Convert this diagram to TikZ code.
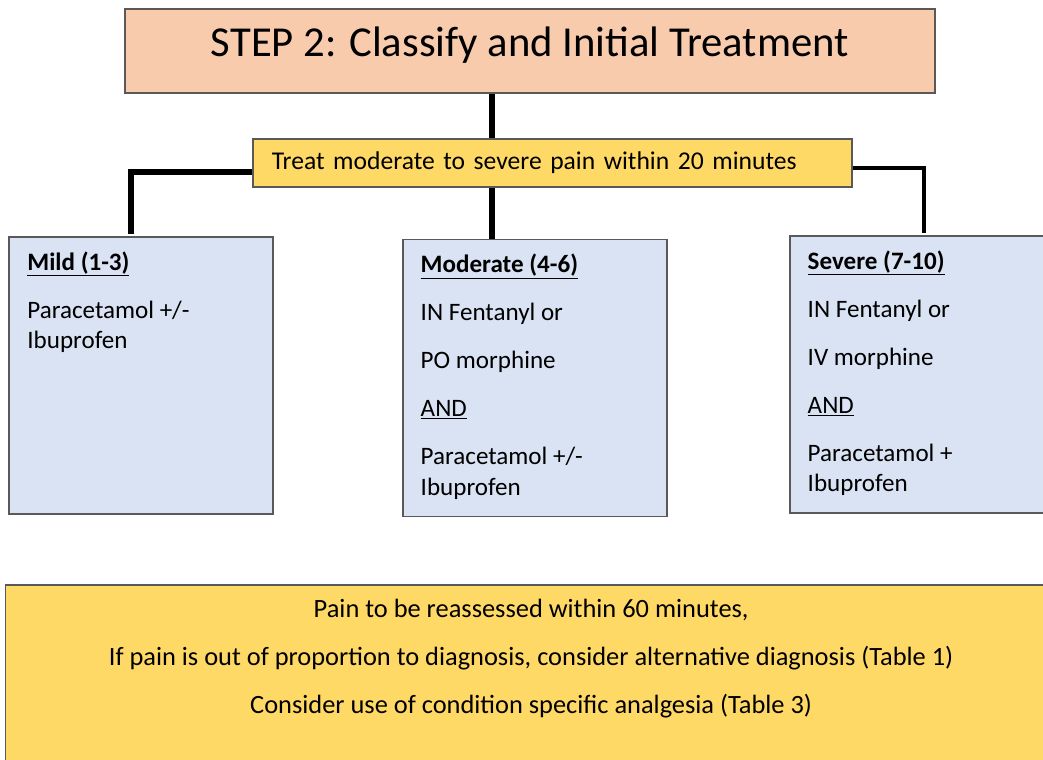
\documentclass[tikz,border=0pt]{standalone}
\usepackage{fontspec}
\setmainfont{Carlito}
\usetikzlibrary{positioning}
\definecolor{peach}{HTML}{F8CBAD}
\definecolor{amber}{HTML}{FFD966}
\definecolor{paleblue}{HTML}{DAE3F3}

\begin{document}
\begin{tikzpicture}[x=0.75pt, y=-0.75pt,
    box/.style={draw=black!65, line width=0.8pt, inner sep=0pt},
    level/.style={box, fill=paleblue, minimum width=198pt, minimum height=207.75pt},
    levtext/.style={anchor=north west, align=left, inner sep=0pt, font=\fontsize{18.8}{23}\selectfont},
    wire/.style={line width=4.2pt}]

    \useasboundingbox (0,0) rectangle (1043,760);
    \clip (0,0) rectangle (1043,760);

    % --- Header ---
    \node[box, fill=peach, minimum width=607.5pt, minimum height=63pt,
          font=\fontsize{32}{38}\selectfont] (Title) at (530,51)
          {\raisebox{-3.75pt}[0pt][0pt]{STEP 2: Classify and Initial Treatment}};
    \node[box, fill=amber, minimum width=449.25pt, minimum height=36pt, text width=421pt,
          inner xsep=14pt, align=left, font=\fontsize{19.2}{22}\selectfont] (Treat) at (552.5,163)
          {Treat moderate to severe pain within 20 minutes};

    % --- Pain levels ---
    \node[level] (Mild) at (141,375.5) {};
    \node[level] (Mod) at (535,378) {};
    \node[level, minimum width=201pt] (Sev) at (924,374.5) {};

    \node[levtext] (MildTxt) at ([xshift=14pt, yshift=-11pt]Mild.north west)
        {\textbf{\underline{Mild (1-3)}}\\[13pt]
         Paracetamol +/-\\
         Ibuprofen};
    \node[levtext] (ModTxt) at ([xshift=13.5pt, yshift=-11pt]Mod.north west)
        {\textbf{\underline{Moderate (4-6)}}\\[13pt]
         IN Fentanyl or\\[13pt]
         PO morphine\\[13pt]
         \underline{AND}\\[13pt]
         Paracetamol +/-\\
         Ibuprofen};
    \node[levtext] (SevTxt) at ([xshift=13.5pt, yshift=-11pt]Sev.north west)
        {\textbf{\underline{Severe (7-10)}}\\[13pt]
         IN Fentanyl or\\[13pt]
         IV morphine\\[13pt]
         \underline{AND}\\[13pt]
         Paracetamol +\\
         Ibuprofen};

    % --- Reassessment note ---
    \node[box, fill=amber, minimum width=791pt, minimum height=142.5pt] (Note) at (532.5,680) {};
    \node[anchor=north, align=center, inner sep=0pt, font=\fontsize{19.8}{36}\selectfont] (NoteTxt)
        at ([xshift=-1pt, yshift=-11pt]Note.north)
        {Pain to be reassessed within 60 minutes,\\
         If pain is out of proportion to diagnosis, consider alternative diagnosis (Table 1)\\
         Consider use of condition specific analgesia (Table 3)};

    % --- Connectors ---
    \coordinate (trunk) at (492,0);
    \draw[wire] (Title.south -| trunk) -- (Treat.north -| trunk);
    \draw[wire] (Treat.south -| trunk) -- (Mod.north -| trunk);
    \draw[wire] ([yshift=-6.75pt]Treat.west) -| ([xshift=-7.5pt, yshift=2pt]Mild.north);
    \draw[wire, line width=3.2pt] ([yshift=-3.75pt]Treat.east) -| ([yshift=2pt]Sev.north);

\end{tikzpicture}
\end{document}
